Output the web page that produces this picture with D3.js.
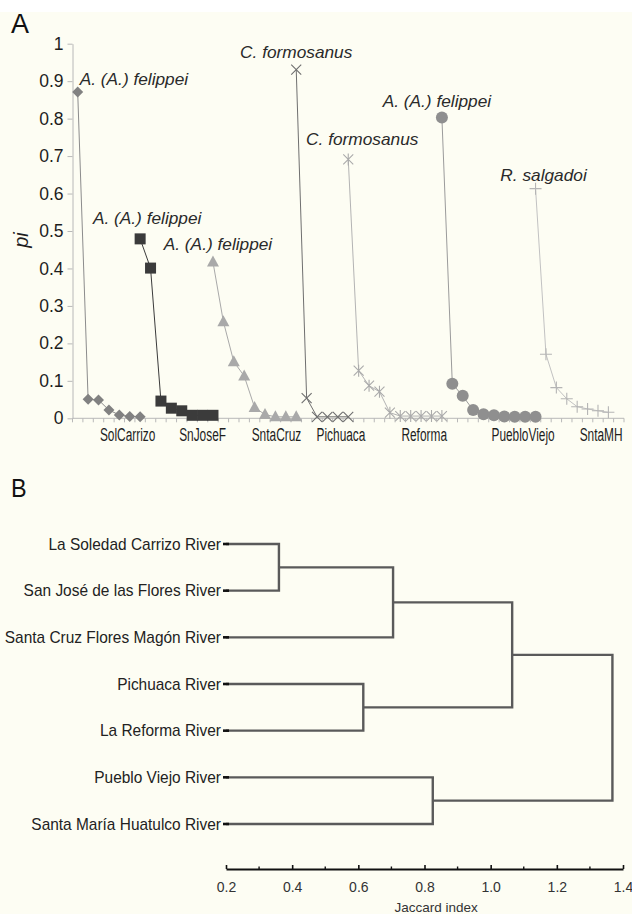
<!DOCTYPE html>
<html>
<head>
<meta charset="utf-8">
<script src="https://cdn.jsdelivr.net/npm/d3@7"></script>
<style>
  body { margin: 0; background: #fff; }
  svg { display: block; font-family: "Liberation Sans", Arial, sans-serif; }
</style>
</head>
<body>
<svg id="fig" width="632" height="914"></svg>
<script>
// ---------- panel A : ranked relative abundance (pi) per river ----------
var riverCodes = ["SolCarrizo", "SnJoseF", "SntaCruz", "Pichuaca", "Reforma", "PuebloViejo", "SntaMH"];
var seriesStart = [0, 6, 13, 21, 26, 35, 44];          // first category of each river
var codeLabelAt = [4.8, 12, 19.1, 25.3, 33.3, 42.8, 50.3]; // category where the river name sits
var nCategories = 53;

var solCarrizo  = [0.871, 0.051, 0.049, 0.022, 0.009, 0.005, 0.004];
var snJoseF     = [0.479, 0.401, 0.046, 0.027, 0.020, 0.008, 0.008, 0.008];
var sntaCruz    = [0.417, 0.258, 0.151, 0.113, 0.029, 0.010, 0.004, 0.004, 0.004];
var pichuaca    = [0.931, 0.054, 0.004, 0.004, 0.004, 0.004];
var reforma     = [0.691, 0.127, 0.087, 0.071, 0.015, 0.006, 0.006, 0.006, 0.006, 0.006];
var puebloViejo = [0.803, 0.092, 0.060, 0.022, 0.011, 0.008, 0.005, 0.004, 0.004, 0.004];
var sntaMH      = [0.613, 0.171, 0.082, 0.052, 0.031, 0.025, 0.020, 0.016];
var seriesValues = [solCarrizo, snJoseF, sntaCruz, pichuaca, reforma, puebloViejo, sntaMH];

var dominantSpecies = ["A. (A.) felippei", "A. (A.) felippei", "A. (A.) felippei",
                       "C. formosanus", "C. formosanus", "A. (A.) felippei", "R. salgadoi"];
var yTickValues = [0, 0.1, 0.2, 0.3, 0.4, 0.5, 0.6, 0.7, 0.8, 0.9, 1];

// ---------- panel B : Jaccard dendrogram ----------
var riverNames = ["La Soledad Carrizo River", "San José de las Flores River", "Santa Cruz Flores Magón River",
                  "Pichuaca River", "La Reforma River", "Pueblo Viejo River", "Santa María Huatulco River"];
// node ids 0-6 are the rivers, every join makes the next id (7, 8, ...)
var joinA = [0, 7, 3, 8, 5, 10];
var joinB = [1, 2, 4, 9, 6, 11];
var joinHeight = [0.36, 0.705, 0.615, 1.065, 0.825, 1.368];
var jaccardTicks = [0.2, 0.4, 0.6, 0.8, 1.0, 1.2, 1.4];
var jaccardMinor = [0.3, 0.5, 0.7, 0.9, 1.1, 1.3];

// styles
var seriesStyle = [
  {marker: "diamond",  fill: "#818181", line: "#8c8c8c"},
  {marker: "square",   fill: "#3b3b3b", line: "#3b3b3b"},
  {marker: "triangle", fill: "#a9a9a9", line: "#a9a9a9"},
  {marker: "cross",    fill: "#6f6f6f", line: "#6f6f6f"},
  {marker: "star",     fill: "#ababab", line: "#b3b3b3"},
  {marker: "circle",   fill: "#8f8f8f", line: "#9b9b9b"},
  {marker: "plus",     fill: "#b5b5b5", line: "#c2c2c2"}
];
var peakLabel = [
  {anchor: "start",  dx: 2,  dy: -7},
  {anchor: "middle", dx: 7,  dy: -15},
  {anchor: "middle", dx: 5,  dy: -12},
  {anchor: "middle", dx: 0,  dy: -12},
  {anchor: "middle", dx: 14, dy: -14},
  {anchor: "middle", dx: -5, dy: -10},
  {anchor: "middle", dx: 8,  dy: -8}
];

var svg = d3.select("#fig");
svg.append("rect").attr("x", 0).attr("y", 12).attr("width", 632).attr("height", 902).attr("fill", "#fdfdf3");

// ================= panel A =================
var x = d3.scaleBand().domain(d3.range(nCategories)).range([72.5, 624]);
var y = d3.scaleLinear().domain([0, 1]).range([418.3, 43.7]);
var cx = function(i) { return x(i) + x.bandwidth() / 2; };

var gA = svg.append("g");

var yAxis = gA.append("g")
  .attr("transform", "translate(" + x.range()[0] + ",0)")
  .call(d3.axisLeft(y).tickValues(yTickValues).tickSize(5).tickPadding(4)
        .tickSizeOuter(0).tickFormat(d3.format("~g")));
yAxis.select(".domain").attr("stroke", "#b8b8b8");
yAxis.selectAll(".tick line").attr("stroke", "#b8b8b8");
yAxis.selectAll(".tick text").attr("font-size", 17.5).attr("fill", "#1e1e1e")
  .attr("font-family", "'Liberation Sans', Arial, sans-serif");

// x axis with tick marks on every category boundary
gA.append("line")
  .attr("x1", x.range()[0]).attr("x2", x.range()[1])
  .attr("y1", y(0)).attr("y2", y(0))
  .attr("stroke", "#b8b8b8");
gA.selectAll(".xtick").data(d3.range(nCategories + 1)).enter().append("line")
  .attr("x1", function(i) { return x.range()[0] + i * x.step(); })
  .attr("x2", function(i) { return x.range()[0] + i * x.step(); })
  .attr("y1", y(0)).attr("y2", y(0) + 4)
  .attr("stroke", "#b8b8b8");

gA.selectAll(".code").data(riverCodes).enter().append("text")
  .attr("transform", function(d, i) {
    return "translate(" + (x.range()[0] + (codeLabelAt[i] + 0.5) * x.step()) + ",440.5) scale(0.66,1)";
  })
  .attr("text-anchor", "middle").attr("font-size", 18).attr("fill", "#1e1e1e")
  .text(function(d) { return d; });

gA.append("text")
  .attr("transform", "translate(28,240) rotate(-90)")
  .attr("text-anchor", "middle").attr("font-size", 20).attr("font-style", "italic")
  .attr("fill", "#1e1e1e").text("pi");

svg.append("text").attr("x", 11).attr("y", 33).attr("font-size", 27).attr("fill", "#111").text("A");

function drawMarker(g, kind, color) {
  if (kind === "diamond") g.append("path").attr("d", "M0,-5.5L5.5,0L0,5.5L-5.5,0Z").attr("fill", color);
  else if (kind === "square") g.append("rect").attr("x", -5.5).attr("y", -5.5).attr("width", 11).attr("height", 11).attr("fill", color);
  else if (kind === "triangle") g.append("path").attr("d", "M0,-6.5L6,4.5L-6,4.5Z").attr("fill", color);
  else if (kind === "circle") g.append("circle").attr("r", 6).attr("fill", color);
  else if (kind === "cross") g.append("path").attr("d", "M-5,-5L5,5M-5,5L5,-5").attr("stroke", color).attr("stroke-width", 1.1).attr("fill", "none");
  else if (kind === "star") g.append("path").attr("d", "M-5,-5L5,5M-5,5L5,-5M0,-6L0,6").attr("stroke", color).attr("stroke-width", 1.1).attr("fill", "none");
  else if (kind === "plus") g.append("path").attr("d", "M-6,0L6,0M0,-6L0,6").attr("stroke", color).attr("stroke-width", 1.1).attr("fill", "none");
}

var line = d3.line().x(function(d) { return cx(d.i); }).y(function(d) { return y(d.v); });

seriesValues.forEach(function(vals, s) {
  var pts = vals.map(function(v, j) { return {i: seriesStart[s] + j, v: v}; });
  var st = seriesStyle[s];
  gA.append("path").datum(pts).attr("d", line)
    .attr("fill", "none").attr("stroke", st.line).attr("stroke-width", 1);
  pts.forEach(function(p) {
    var m = gA.append("g").attr("transform", "translate(" + cx(p.i) + "," + y(p.v) + ")");
    drawMarker(m, st.marker, st.fill);
  });
  var lab = peakLabel[s];
  gA.append("text")
    .attr("transform", "translate(" + (cx(pts[0].i) + lab.dx) + "," + (y(pts[0].v) + lab.dy) + ") scale(1.08,1)")
    .attr("text-anchor", lab.anchor).attr("font-size", 16).attr("font-style", "italic")
    .attr("fill", "#2a2a2a").text(dominantSpecies[s]);
});

// ================= panel B =================
svg.append("text").attr("x", 11).attr("y", 497).attr("font-size", 26)
  .attr("transform", "translate(11,0) scale(0.9,1) translate(-11,0)").attr("fill", "#111").text("B");

var jx = d3.scaleLinear().domain([0.2, 1.4]).range([226, 623]);
var jy = d3.scalePoint().domain(d3.range(riverNames.length)).range([544, 824]);

var gB = svg.append("g");
var nodeX = riverNames.map(function() { return 0.2; });
var nodeY = riverNames.map(function(d, i) { return jy(i); });

joinA.forEach(function(a, k) {
  var b = joinB[k], h = joinHeight[k];
  var p = d3.path();
  p.moveTo(jx(nodeX[a]), nodeY[a]);
  p.lineTo(jx(h), nodeY[a]);
  p.lineTo(jx(h), nodeY[b]);
  p.lineTo(jx(nodeX[b]), nodeY[b]);
  gB.append("path").attr("d", p.toString())
    .attr("fill", "none").attr("stroke", "#5a5a5a").attr("stroke-width", 2.4);
  nodeX.push(h);
  nodeY.push((nodeY[a] + nodeY[b]) / 2);
});

riverNames.forEach(function(name, i) {
  gB.append("line").attr("x1", jx(0.2) - 3).attr("x2", jx(0.2) + 3)
    .attr("y1", jy(i)).attr("y2", jy(i)).attr("stroke", "#111").attr("stroke-width", 2.6);
  gB.append("text")
    .attr("transform", "translate(" + (jx(0.2) - 5) + "," + (jy(i) + 5.5) + ") scale(0.92,1)")
    .attr("text-anchor", "end").attr("font-size", 16.8).attr("fill", "#222").text(name);
});

var jAxis = gB.append("g").attr("transform", "translate(0,869)")
  .call(d3.axisBottom(jx).tickValues(jaccardTicks).tickSize(-4).tickSizeOuter(0)
        .tickPadding(13).tickFormat(d3.format(".1f")));
jAxis.select(".domain").attr("stroke", "#111").attr("stroke-width", 2.2);
jAxis.selectAll(".tick line").attr("stroke", "#111").attr("stroke-width", 1.6);
jAxis.selectAll(".tick text").attr("font-size", 14).attr("fill", "#333")
  .attr("font-family", "'Liberation Sans', Arial, sans-serif");
gB.selectAll(".minor").data(jaccardMinor).enter().append("line")
  .attr("x1", function(d) { return jx(d); }).attr("x2", function(d) { return jx(d); })
  .attr("y1", 869).attr("y2", 866.5).attr("stroke", "#111").attr("stroke-width", 1.4);

gB.append("text").attr("x", jx(0.835)).attr("y", 912)
  .attr("text-anchor", "middle").attr("font-size", 13.5).attr("fill", "#333")
  .text("Jaccard index");
</script>
</body>
</html>
